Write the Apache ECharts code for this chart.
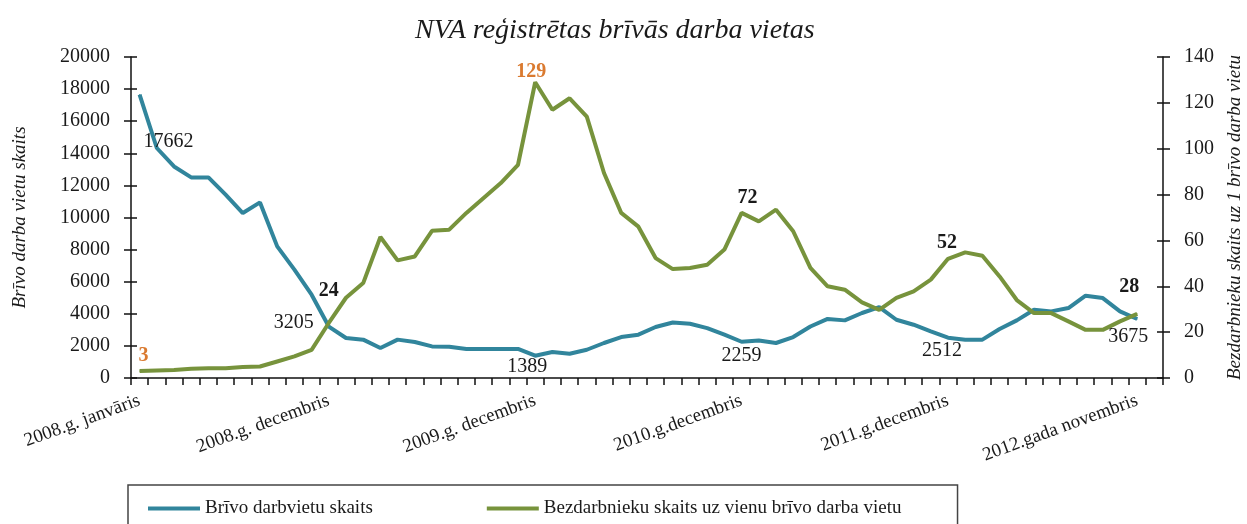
<!DOCTYPE html>
<html>
<head>
<meta charset="utf-8">
<script src="https://cdn.jsdelivr.net/npm/echarts@6/dist/echarts.min.js"></script>
<style>
html, body { margin: 0; padding: 0; background: #fff; }
#chart { width: 1247px; height: 524px; }
</style>
</head>
<body>
<div id="chart"></div>
<script>
// categories: one per month, Jan 2008 .. Dec 2012 (last one has no data)
const monthNames = ['janvāris', 'februāris', 'marts', 'aprīlis', 'maijs', 'jūnijs',
  'jūlijs', 'augusts', 'septembris', 'oktobris', 'novembris', 'decembris'];
const years = [2008, 2009, 2010, 2011, 2012];
const categories = [];
years.forEach(y => monthNames.forEach(m => categories.push(y + '.g. ' + m)));

// the only category labels printed under the axis
const tickLabelIdx = [0, 11, 23, 35, 47, 58];
const tickLabels = ['2008.g. janvāris', '2008.g. decembris', '2009.g. decembris',
  '2010.g.decembris', '2011.g.decembris', '2012.gada novembris'];
tickLabelIdx.forEach((i, k) => { categories[i] = tickLabels[k]; });

// Brīvo darbvietu skaits (left axis)
const vacancies = [
  17662, 14330, 13180, 12500, 12500, 11420, 10280, 10940, 8200, 6750, 5190, 3205,
  2490, 2390, 1870, 2390, 2240, 1970, 1950, 1810, 1810, 1810, 1810, 1389,
  1620, 1510, 1760, 2180, 2550, 2700, 3180, 3460, 3380, 3110, 2700, 2259,
  2340, 2180, 2550, 3210, 3680, 3590, 4050, 4420, 3630, 3320, 2900, 2512,
  2390, 2390, 3050, 3590, 4250, 4150, 4360, 5130, 4980, 4150, 3675
];

// Bezdarbnieku skaits uz vienu brīvo darba vietu (right axis)
const perVacancy = [
  3, 3.3, 3.5, 4, 4.2, 4.3, 4.8, 5, 7.2, 9.4, 12.3, 24,
  35, 41.4, 61.5, 51.3, 53, 64.2, 64.7, 72, 78.5, 85, 93, 129,
  117, 122, 114, 89.4, 72, 66, 52.3, 47.5, 48, 49.4, 56, 72,
  68.3, 73.4, 64, 48, 40, 38.5, 33, 29.7, 34.9, 37.8, 42.9, 52,
  54.8, 53.3, 44.3, 34, 28.3, 28.3, 24.7, 21, 21, 24.7, 28
];

// points that carry a value label
const labelIdx = [0, 11, 23, 35, 47, 58];

const serif = 'Liberation Serif';
const blue = '#31859C';
const green = '#77933C';
const orange = '#DA7A30';
const ink = '#1a1a1a';

// label placement, relative to the point
const blueOffsets = [[29, 47], [-35, -4], [-8, 11], [0, 14], [-6, 13], [-9, 18]];
const greenOffsets = [[4, -15], [0, -32], [-4, -10], [6, -15], [-1, -16], [-8, -27]];
const greenLabelColors = [orange, ink, orange, ink, ink, ink];

function labelled(values, offsets, colors, bold) {
  return values.map((v, i) => {
    const k = labelIdx.indexOf(i);
    if (k < 0) return v;
    return {
      value: v,
      symbol: 'circle',
      symbolSize: 1,
      label: {
        show: true,
        position: 'inside',
        offset: offsets[k],
        color: colors ? colors[k] : ink,
        fontFamily: serif,
        fontSize: 20,
        fontWeight: bold ? 'bold' : 'normal'
      }
    };
  });
}

const chart = echarts.init(document.getElementById('chart'));

const valueAxisBase = {
  type: 'value',
  min: 0,
  axisLine: { show: true, lineStyle: { color: '#111', width: 1.5 } },
  axisTick: { show: true, length: 7, lineStyle: { color: '#111', width: 1.5 } },
  splitLine: { show: false },
  axisLabel: { fontFamily: serif, fontSize: 20, color: ink, margin: 21, formatter: v => String(v) },
  nameLocation: 'middle',
  nameRotate: 90,
  nameTextStyle: { fontFamily: serif, fontStyle: 'italic', fontSize: 19, color: ink }
};

// inner halves of the crossing ticks
const innerTicks = {
  type: 'value',
  min: 0,
  axisLine: { show: false },
  axisTick: { show: true, inside: true, length: 6, lineStyle: { color: '#111', width: 1.5 } },
  axisLabel: { show: false },
  splitLine: { show: false }
};

chart.setOption({
  animation: false,
  backgroundColor: '#fff',
  title: {
    text: 'NVA reģistrētas brīvās darba vietas',
    left: 410,
    top: 12,
    textStyle: { fontFamily: serif, fontStyle: 'italic', fontWeight: 'normal', fontSize: 28, color: ink }
  },
  grid: { left: 131, right: 84, top: 57, bottom: 146, outerBoundsMode: 'none' },
  legend: {
    left: 128,
    top: 485,
    padding: [14, 56, 30, 20],
    itemGap: 114,
    itemWidth: 52,
    itemHeight: 4,
    icon: 'rect',
    borderColor: '#444',
    borderWidth: 1.5,
    textStyle: { fontFamily: serif, fontSize: 19, color: ink },
    data: ['Brīvo darbvietu skaits', 'Bezdarbnieku skaits uz vienu brīvo darba vietu']
  },
  xAxis: {
    type: 'category',
    data: categories,
    boundaryGap: true,
    axisLine: { lineStyle: { color: '#111', width: 1.5 } },
    axisTick: { show: true, interval: 0, length: 7, lineStyle: { color: '#111', width: 1.5 } },
    axisLabel: {
      interval: (i) => tickLabelIdx.indexOf(i) >= 0,
      rotate: 20,
      margin: 22,
      fontFamily: serif,
      fontSize: 19,
      color: ink
    }
  },
  yAxis: [
    Object.assign({}, valueAxisBase, {
      position: 'left', max: 20000, interval: 2000,
      name: 'Brīvo darba vietu skaits', nameGap: 102
    }),
    Object.assign({}, valueAxisBase, {
      position: 'right', max: 140, interval: 20,
      name: 'Bezdarbnieku skaits uz 1 brīvo darba vietu', nameGap: 62,
      nameTextStyle: { fontFamily: serif, fontStyle: 'italic', fontSize: 19, color: ink }
    }),
    Object.assign({}, innerTicks, { position: 'left', max: 20000, interval: 2000 }),
    Object.assign({}, innerTicks, { position: 'right', max: 140, interval: 20 })
  ],
  series: [
    {
      name: 'Brīvo darbvietu skaits',
      type: 'line',
      yAxisIndex: 0,
      symbol: 'none',
      showAllSymbol: true,
      lineStyle: { color: blue, width: 4 },
      itemStyle: { color: blue },
      data: labelled(vacancies, blueOffsets, null, false)
    },
    {
      name: 'Bezdarbnieku skaits uz vienu brīvo darba vietu',
      type: 'line',
      yAxisIndex: 1,
      symbol: 'none',
      showAllSymbol: true,
      lineStyle: { color: green, width: 4 },
      itemStyle: { color: green },
      data: labelled(perVacancy, greenOffsets, greenLabelColors, true)
    }
  ]
});
</script>
</body>
</html>
